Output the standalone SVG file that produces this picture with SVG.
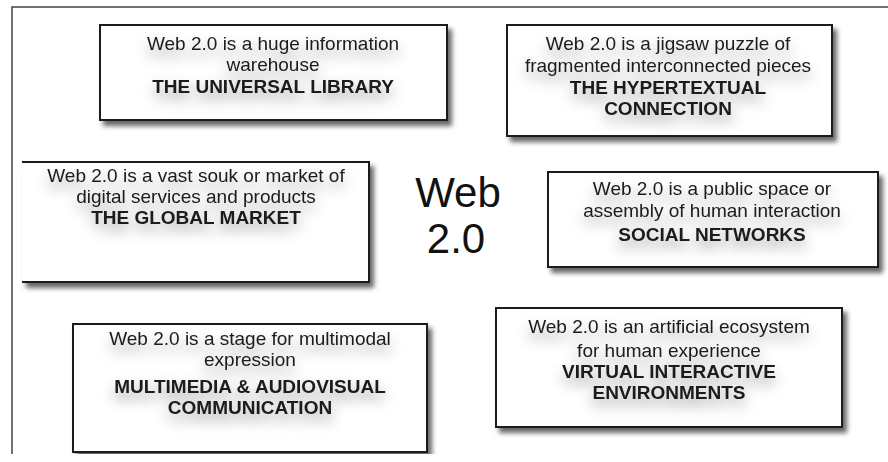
<svg xmlns="http://www.w3.org/2000/svg" width="888" height="462" viewBox="0 0 888 462">
<defs>
<filter id="boxShadow" x="-10%" y="-10%" width="125%" height="130%">
<feDropShadow dx="4" dy="5" stdDeviation="2.5" flood-color="#000" flood-opacity="0.6"/>
</filter>
<filter id="textGlow" x="-20%" y="-40%" width="140%" height="220%">
<feDropShadow dx="0" dy="7" stdDeviation="7" flood-color="#000" flood-opacity="0.4"/>
</filter>
<clipPath id="cut"><rect x="0" y="0" width="888" height="454"/></clipPath>
</defs>
<style>
.box { fill: #ffffff; stroke: #1e1e1e; stroke-width: 2; filter: url(#boxShadow); }
.fillonly { fill: #ffffff; stroke: none; }
.edge { fill: none; stroke: #1e1e1e; stroke-width: 2; }
.sh { filter: url(#boxShadow); }
.t { font-family: "Liberation Sans", Arial, sans-serif; font-size: 19px; fill: #1a1a1a; text-anchor: middle; }
.b { font-weight: bold; }
.txt { filter: url(#textGlow); }
.big { font-family: "Liberation Sans", Arial, sans-serif; font-size: 42px; fill: #111; text-anchor: middle; }
.frame { fill: none; stroke: #444; stroke-width: 1.5; }
</style>
<rect x="0" y="0" width="888" height="462" fill="#ffffff"/>
<path class="frame" d="M12,454 V7 H888"/>

<g id="center">
<text class="big" x="458" y="207">Web</text>
<text class="big" x="456" y="253">2.0</text>
</g>

<g id="library">
<rect class="box" x="100" y="25" width="347" height="95"/>
<g class="txt">
<text class="t" x="273" y="50">Web 2.0 is a huge information</text>
<text class="t" x="273" y="71">warehouse</text>
<text class="t b" x="273" y="93">THE UNIVERSAL LIBRARY</text>
</g>
</g>

<g id="hypertextual">
<rect class="box" x="507" y="25" width="325" height="111"/>
<g class="txt">
<text class="t" x="668" y="50">Web 2.0 is a jigsaw puzzle of</text>
<text class="t" x="668" y="72">fragmented interconnected pieces</text>
<text class="t b" x="668" y="94">THE HYPERTEXTUAL</text>
<text class="t b" x="668" y="115">CONNECTION</text>
</g>
</g>

<g id="market">
<g class="sh">
<rect class="fillonly" x="22" y="162" width="347" height="120"/>
<path class="edge" d="M22,162 H369 V282 H22"/>
</g>
<g class="txt">
<text class="t" x="196" y="182">Web 2.0 is a vast souk or market of</text>
<text class="t" x="196" y="203">digital services and products</text>
<text class="t b" x="196" y="224">THE GLOBAL MARKET</text>
</g>
</g>

<g id="social">
<rect class="box" x="548" y="172" width="330" height="95"/>
<g class="txt">
<text class="t" x="712" y="195">Web 2.0 is a public space or</text>
<text class="t" x="712" y="217">assembly of human interaction</text>
<text class="t b" x="712" y="241">SOCIAL NETWORKS</text>
</g>
</g>

<g id="multimedia" clip-path="url(#cut)">
<rect class="box" x="73" y="324" width="354" height="128"/>
<g class="txt">
<text class="t" x="250" y="345">Web 2.0 is a stage for multimodal</text>
<text class="t" x="250" y="366">expression</text>
<text class="t b" x="250" y="393">MULTIMEDIA &amp; AUDIOVISUAL</text>
<text class="t b" x="250" y="414">COMMUNICATION</text>
</g>
</g>

<g id="virtual">
<rect class="box" x="496" y="308" width="346" height="119"/>
<g class="txt">
<text class="t" x="669" y="333">Web 2.0 is an artificial ecosystem</text>
<text class="t" x="669" y="357">for human experience</text>
<text class="t b" x="669" y="378">VIRTUAL INTERACTIVE</text>
<text class="t b" x="669" y="399">ENVIRONMENTS</text>
</g>
</g>

<g id="connectors"></g>
</svg>
